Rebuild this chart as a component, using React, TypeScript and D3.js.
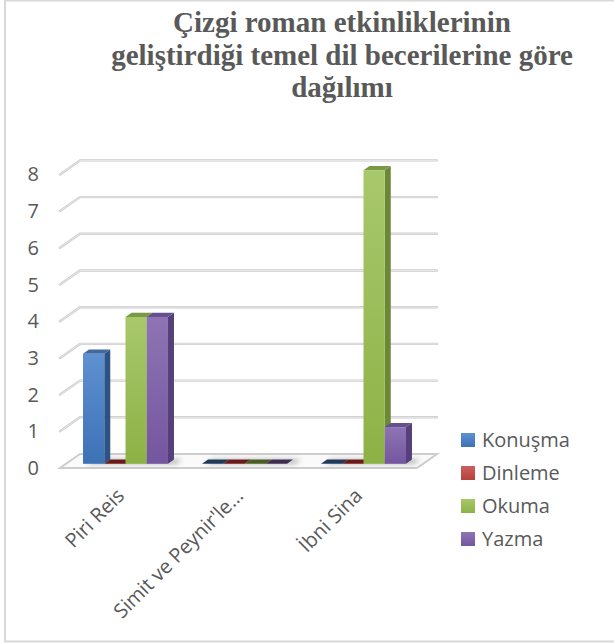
import React from "react";
import * as d3 from "d3";

const width = 614;
const height = 644;

const titleLines = [
  "Çizgi roman etkinliklerinin",
  "geliştirdiği temel dil becerilerine göre",
  "dağılımı",
];
const categories = ["Piri Reis", "Simit ve Peynir'le…", "İbni Sina"];
const seriesNames = ["Konuşma", "Dinleme", "Okuma", "Yazma"];
const konusma = [3, 0, 0];
const dinleme = [0, 0, 0];
const okuma = [4, 0, 8];
const yazma = [4, 0, 1];
const yTicks = [0, 1, 2, 3, 4, 5, 6, 7, 8];

const seriesValues = [konusma, dinleme, okuma, yazma];

// front, front-bottom, side, top, flat(zero)
const palette = [
  { front: "#5f91d1", frontDark: "#3d71b6", side: "#2d5283", top: "#41699e", flat: "#1f3a5c" },
  { front: "#cc5f5c", frontDark: "#b5433f", side: "#7e2623", top: "#8f302c", flat: "#6c1a18" },
  { front: "#a8c86c", frontDark: "#8eb146", side: "#6a8836", top: "#7a9944", flat: "#4a5e23" },
  { front: "#8e74b4", frontDark: "#74569f", side: "#56407a", top: "#66508e", flat: "#3c2d51" },
];

// oblique projection for depth 0 (front) .. 1 (back wall)
const DX = 20;
const DY = -14;
const proj = (x: number, y: number, d: number): [number, number] => [x + DX * d, y + DY * d];
const D1 = 0.3;
const D2 = 0.6;

const x0 = d3
  .scaleBand<string>()
  .domain(categories)
  .range([60, 417])
  .paddingInner(0.286)
  .paddingOuter(0.143);
const x1 = d3.scaleBand<string>().domain(seriesNames).range([0, x0.bandwidth()]);
const y = d3.scaleLinear().domain([0, 8]).range([468, 174.4]);

const pts = (arr: [number, number][]) => arr.map((p) => p.join(",")).join(" ");

function Bars() {
  const out: React.ReactNode[] = [];
  categories.forEach((cat, ci) => {
    seriesNames.forEach((s, si) => {
      const v = seriesValues[si][ci];
      const c = palette[si];
      const xl = (x0(cat) as number) + (x1(s) as number);
      const xr = xl + x1.bandwidth();
      const yb = y(0);
      const yt = y(v);
      const key = cat + s;
      if (v === 0) {
        out.push(
          <polygon
            key={key}
            points={pts([proj(xl, yb, D1), proj(xr, yb, D1), proj(xr, yb, D2), proj(xl, yb, D2)])}
            fill={c.flat}
          />
        );
        return;
      }
      const f1 = proj(xl, yt, D1);
      const f2 = proj(xr, yb, D1);
      out.push(
        <g key={key}>
          <polygon
            points={pts([proj(xr, yt, D1), proj(xr, yt, D2), proj(xr, yb, D2), proj(xr, yb, D1)])}
            fill={c.side}
          />
          <polygon
            points={pts([proj(xl, yt, D1), proj(xr, yt, D1), proj(xr, yt, D2), proj(xl, yt, D2)])}
            fill={c.top}
          />
          <rect
            x={f1[0]}
            y={f1[1]}
            width={f2[0] - f1[0]}
            height={f2[1] - f1[1]}
            fill={`url(#grad${si})`}
          />
        </g>
      );
    });
  });
  return <g>{out}</g>;
}

export default function App() {
  const [fx0, fx1] = x0.range();
  return (
    <svg
      width={width}
      height={height}
      style={{ position: "absolute", left: 0, top: 0, background: "#fff" }}
      fontFamily="'Open Sans', sans-serif"
    >
      <defs>
        {palette.map((c, i) => (
          <linearGradient key={i} id={`grad${i}`} x1="0" y1="0" x2="0" y2="1">
            <stop offset="0" stopColor={c.front} />
            <stop offset="1" stopColor={c.frontDark} />
          </linearGradient>
        ))}
        <filter id="blur" x="-20%" y="-200%" width="140%" height="500%">
          <feGaussianBlur stdDeviation="2.5" />
        </filter>
      </defs>
      <rect x={5} y={0.5} width={612} height={641} fill="none" stroke="#d9d9d9" strokeWidth={2} />

      <g fill="#595959" fontFamily="'Liberation Serif', 'Times New Roman', serif" fontWeight="bold" fontSize={29} textAnchor="middle">
        {titleLines.map((t, i) => (
          <text key={i} x={342} y={32 + i * 32.5}>
            {t}
          </text>
        ))}
      </g>

      {/* gridlines: left wall slant + back wall */}
      <g fill="none" strokeLinecap="round">
        {yTicks.slice(1).map((t) => {
          const a = proj(fx0, y(t), 0);
          const b = proj(fx0, y(t), 1);
          const c = proj(fx1, y(t), 1);
          return (
            <g key={t}>
              <polyline points={pts([a, b, c])} stroke="#cdcdcd" strokeWidth={2.4} />
              <polyline points={pts([a, b, c])} stroke="#eeeeee" strokeWidth={0.8} />
            </g>
          );
        })}
      </g>

      {/* floor */}
      <polygon
        points={pts([proj(fx0, y(0), 0), proj(fx1, y(0), 0), proj(fx1, y(0), 1), proj(fx0, y(0), 1)])}
        fill="#fafafa"
        stroke="#cdcdcd"
        strokeWidth={2}
      />

      {/* shadows */}
      <g filter="url(#blur)" opacity={0.45}>
        {categories.map((cat) => {
          const xl = x0(cat) as number;
          const xr = xl + x0.bandwidth();
          return (
            <polygon
              key={cat}
              points={pts([proj(xl + 4, y(0), D1), proj(xr + 8, y(0), D1), proj(xr + 8, y(0), D2), proj(xl + 4, y(0), D2)])}
              fill="#555"
            />
          );
        })}
      </g>

      <Bars />

      <g fill="#595959" fontSize={20} textAnchor="end">
        {yTicks.map((t) => (
          <text key={t} x={39} y={y(t) + 7}>
            {t}
          </text>
        ))}
      </g>

      <g fill="#595959" fontSize={20} textAnchor="end">
        {categories.map((cat) => {
          const cx = (x0(cat) as number) + x0.bandwidth() / 2 + 6;
          const cy = 497;
          return (
            <text key={cat} x={cx} y={cy} transform={`rotate(-45 ${cx} ${cy})`}>
              {cat}
            </text>
          );
        })}
      </g>

      <g fill="#595959" fontSize={20}>
        {seriesNames.map((s, i) => (
          <g key={s} transform={`translate(461, ${440 + i * 33})`}>
            <rect x={0} y={-7} width={14} height={14} fill={`url(#grad${i})`} />
            <text x={21} y={7}>
              {s}
            </text>
          </g>
        ))}
      </g>
    </svg>
  );
}
